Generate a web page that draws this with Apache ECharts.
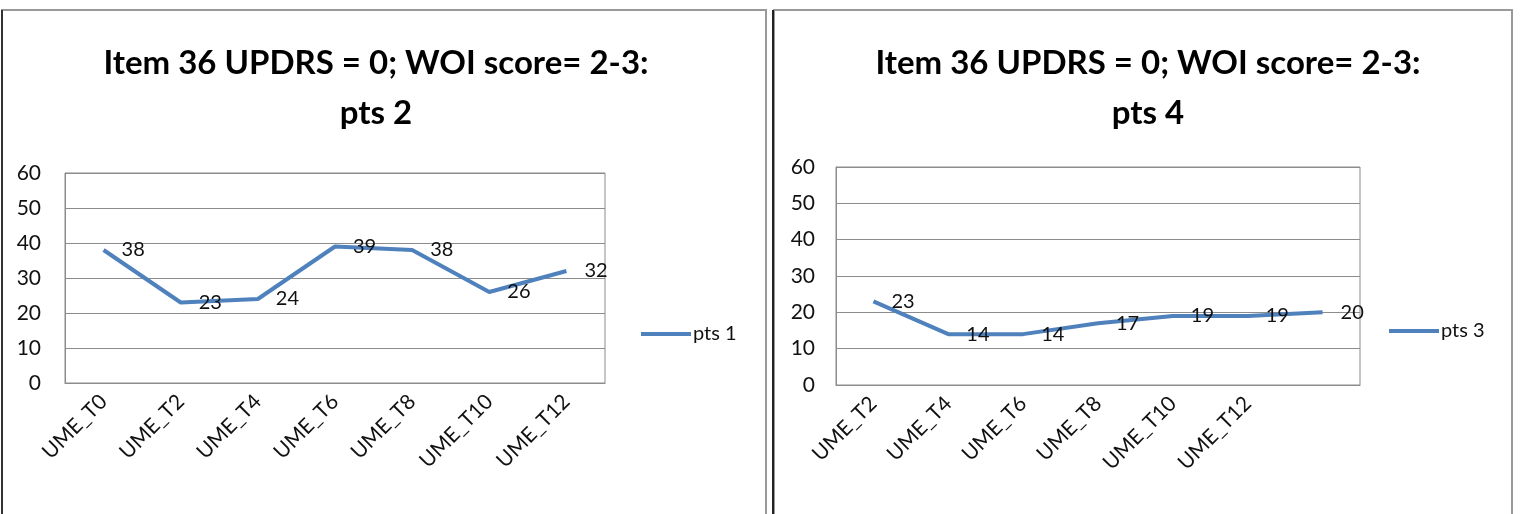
<!DOCTYPE html>
<html>
<head>
<meta charset="utf-8">
<script src="https://cdn.jsdelivr.net/npm/echarts@6/dist/echarts.min.js"></script>
<style>
html,body{margin:0;padding:0;background:#fff;}
#c{width:1522px;height:514px;}
</style>
</head>
<body>
<div id="c"></div>
<script>
var titleLeft = 'Item 36 UPDRS = 0; WOI score= 2-3:\npts 2';
var titleRight = 'Item 36 UPDRS = 0; WOI score= 2-3:\npts 4';
var categoriesLeft = ['UME_T0','UME_T2','UME_T4','UME_T6','UME_T8','UME_T10','UME_T12'];
var categoriesRight = ['UME_T2','UME_T4','UME_T6','UME_T8','UME_T10','UME_T12',''];
var seriesLeftName = 'pts 1';
var seriesLeftValues = [38, 23, 24, 39, 38, 26, 32];
var seriesRightName = 'pts 3';
var seriesRightValues = [23, 14, 14, 17, 19, 19, 20];
var yTicks = {min: 0, max: 60, interval: 10};

var FONT = 'Lato';
var LINE = '#4F81BD';
var GRIDC = '#8c8c8c';

function xAxis(idx, cats){
  return {
    type:'category', gridIndex: idx, data: cats, boundaryGap: true,
    axisLine:{show:true, lineStyle:{color:GRIDC, width:1}},
    axisTick:{show:false},
    axisLabel:{rotate:45, margin:15, fontFamily:FONT, fontSize:21, color:'#111', interval:0, hideOverlap:false}
  };
}
function yAxis(idx, margin){
  return {
    type:'value', gridIndex: idx, min:yTicks.min, max:yTicks.max, interval:yTicks.interval,
    axisLine:{show:true, lineStyle:{color:GRIDC}},
    axisTick:{show:false},
    splitLine:{show:true, lineStyle:{color:GRIDC, width:1}},
    axisLabel:{margin:margin, fontFamily:FONT, fontSize:21, color:'#111'}
  };
}
function series(name, data, idx){
  return {
    name:name, type:'line', xAxisIndex:idx, yAxisIndex:idx, data:data,
    symbol:'circle', symbolSize:0, showSymbol:true,
    lineStyle:{color:LINE, width:4}, itemStyle:{color:LINE},
    label:{show:true, position:'right', distance:18, fontFamily:FONT, fontSize:20, color:'#111'},
    animation:false
  };
}

var chart = echarts.init(document.getElementById('c'), null, {renderer:'canvas'});
chart.setOption({
  backgroundColor:'#fff',
  animation:false,
  graphic:[
    {type:'rect', shape:{x:2, y:10, width:764, height:520}, style:{fill:'none', stroke:'#999', lineWidth:2}, z:100},
    {type:'line', shape:{x1:2, y1:10, x2:2, y2:514}, style:{stroke:'#333', lineWidth:2}, z:101},
    {type:'rect', shape:{x:774, y:10, width:738, height:520}, style:{fill:'none', stroke:'#999', lineWidth:2}, z:100},
    {type:'line', shape:{x1:773, y1:10, x2:773, y2:514}, style:{stroke:'#222', lineWidth:2}, z:101}
  ],
  title:[
    {text:titleLeft, left:371, top:33, textAlign:'center',
     textStyle:{fontFamily:FONT, fontWeight:'bold', fontSize:33, color:'#000', lineHeight:50}},
    {text:titleRight, left:1143, top:33, textAlign:'center',
     textStyle:{fontFamily:FONT, fontWeight:'bold', fontSize:33, color:'#000', lineHeight:50}}
  ],
  legend:[
    {data:[seriesLeftName], left:636, top:319, itemWidth:50, itemHeight:4, itemGap:2,
     icon:'rect', textStyle:{fontFamily:FONT, fontSize:20, color:'#111', padding:[0,0,0,-3]}},
    {data:[seriesRightName], left:1384, top:316, itemWidth:50, itemHeight:4, itemGap:2,
     icon:'rect', textStyle:{fontFamily:FONT, fontSize:20, color:'#111', padding:[0,0,0,-3]}}
  ],
  grid:[
    {left:65, top:173, width:540, height:210, show:true, borderColor:GRIDC, borderWidth:1, containLabel:false},
    {left:836, top:167, width:524, height:218, show:true, borderColor:GRIDC, borderWidth:1, containLabel:false}
  ],
  xAxis:[xAxis(0, categoriesLeft), xAxis(1, categoriesRight)],
  yAxis:[yAxis(0, 24), yAxis(1, 21)],
  series:[series(seriesLeftName, seriesLeftValues, 0), series(seriesRightName, seriesRightValues, 1)]
});
</script>
</body>
</html>
